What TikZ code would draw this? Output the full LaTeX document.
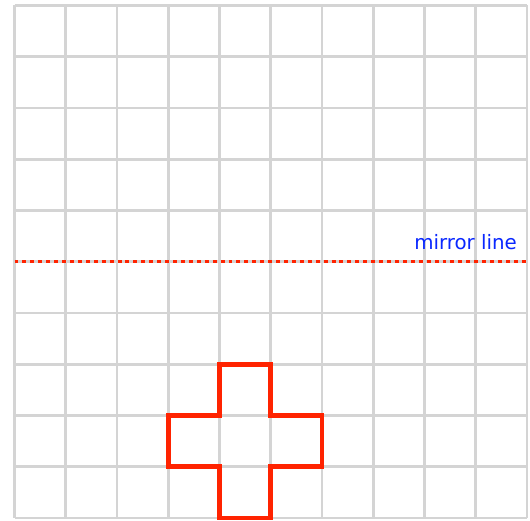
\documentclass[tikz,border=0pt]{standalone}
\usepackage{fontspec}
\setsansfont{DejaVu Sans}
\definecolor{gridgray}{RGB}{212,212,212}
\definecolor{shapered}{RGB}{255,35,0}
\definecolor{mirrorblue}{RGB}{10,40,255}
\begin{document}
\begin{tikzpicture}[scale=1]
  \useasboundingbox (-0.283,-0.039) rectangle (10.058,10.107);

  % mriezka
  \foreach \i in {0,...,10}
  {
    \draw[gridgray, line width=1.6pt] (\i,0) -- (\i,10);
    \draw[gridgray, line width=1.6pt] (0,\i) -- (10,\i);
  }

  % os zrkadlenia
  \draw[shapered, line width=1.7pt, dash pattern=on 2.2pt off 2.2pt] (0,5) -- (10,5);
  \node (mirrorlabel) [anchor=base east, inner sep=0pt, text=mirrorblue,
    font=\sffamily\fontsize{11}{13}\selectfont] at (9.81,5.24) {mirror line};

  % kriz
  \draw[shapered, line width=2.6pt, line join=miter]
    (4,0) -- (5,0) -- (5,1) -- (6,1) -- (6,2) -- (5,2) -- (5,3)
    -- (4,3) -- (4,2) -- (3,2) -- (3,1) -- (4,1) -- cycle;

\end{tikzpicture}
\end{document}
